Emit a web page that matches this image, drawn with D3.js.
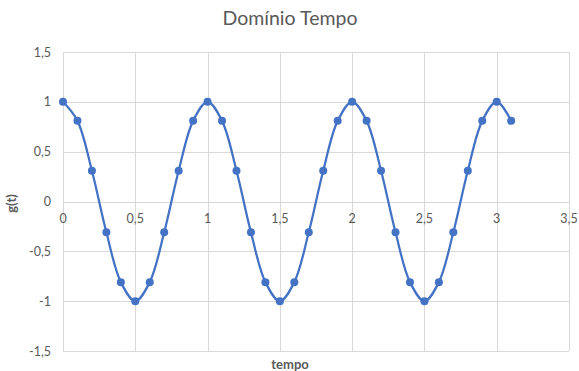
<!DOCTYPE html>
<html><head><meta charset="utf-8">
<script src="https://cdn.jsdelivr.net/npm/d3@7/dist/d3.min.js"></script>
<style>body{margin:0;background:#fff;font-family:Lato,"Liberation Sans",sans-serif;}</style>
</head><body><svg id="c" width="579" height="371"></svg>
<script>
const title = "Domínio Tempo";
const xTitle = "tempo";
const yTitle = "g(t)";
const tValues = [0,0.1,0.2,0.3,0.4,0.5,0.6,0.7,0.8,0.9,1,1.1,1.2,1.3,1.4,1.5,1.6,1.7,1.8,1.9,2,2.1,2.2,2.3,2.4,2.5,2.6,2.7,2.8,2.9,3,3.1];
const gValues = [1,0.809,0.309,-0.309,-0.809,-1,-0.809,-0.309,0.309,0.809,1,0.809,0.309,-0.309,-0.809,-1,-0.809,-0.309,0.309,0.809,1,0.809,0.309,-0.309,-0.809,-1,-0.809,-0.309,0.309,0.809,1,0.809];
const xTicks = [0,0.5,1,1.5,2,2.5,3,3.5];
const yTicks = [-1.5,-1,-0.5,0,0.5,1,1.5];
const fmt = v => String(v).replace(".", ",");

const svg = d3.select("#c");
const x = d3.scaleLinear().domain([0,3.5]).range([63,569]);
const y = d3.scaleLinear().domain([-1.5,1.5]).range([351,52]);
const grid = "#d9d9d9";
const txt = "#595959";

svg.append("g").selectAll("line").data(yTicks).join("line")
  .attr("x1",x(0)).attr("x2",x(3.5)).attr("y1",d=>Math.round(y(d))+0.5).attr("y2",d=>Math.round(y(d))+0.5)
  .attr("stroke",grid).attr("stroke-width",1);
svg.append("g").selectAll("line").data(xTicks).join("line")
  .attr("y1",y(1.5)).attr("y2",y(-1.5)).attr("x1",d=>Math.round(x(d))+0.5).attr("x2",d=>Math.round(x(d))+0.5)
  .attr("stroke",grid).attr("stroke-width",1);

svg.append("g").selectAll("text").data(yTicks).join("text")
  .attr("x",51).attr("y",d=>y(d)+4.5).attr("text-anchor","end")
  .attr("font-size",12.5).attr("fill",txt).text(fmt);
svg.append("g").selectAll("text").data(xTicks).join("text")
  .attr("x",d=>x(d)).attr("y",y(0)+21).attr("text-anchor","middle")
  .attr("font-size",12.5).attr("fill",txt).text(fmt);

svg.append("text").attr("x",290).attr("y",25).attr("text-anchor","middle")
  .attr("font-size",19.5).attr("fill",txt).text(title);
svg.append("text").attr("x",290).attr("y",369).attr("text-anchor","middle")
  .attr("font-size",13).attr("font-weight","bold").attr("fill",txt).text(xTitle);
svg.append("text").attr("transform",`translate(16,${y(0)+2}) rotate(-90)`).attr("text-anchor","middle")
  .attr("font-size",13).attr("font-weight","bold").attr("fill",txt).text(yTitle);

const data = tValues.map((t,i)=>({t, g:gValues[i]}));
const line = d3.line().x(d=>x(d.t)).y(d=>y(d.g)).curve(d3.curveCatmullRom.alpha(0.5));
svg.append("path").datum(data).attr("d",line).attr("fill","none")
  .attr("stroke","#4472c4").attr("stroke-width",2.25).attr("stroke-linejoin","round");
svg.append("g").selectAll("circle").data(data).join("circle")
  .attr("cx",d=>x(d.t)).attr("cy",d=>y(d.g)).attr("r",4).attr("fill","#4472c4");
</script></body></html>
